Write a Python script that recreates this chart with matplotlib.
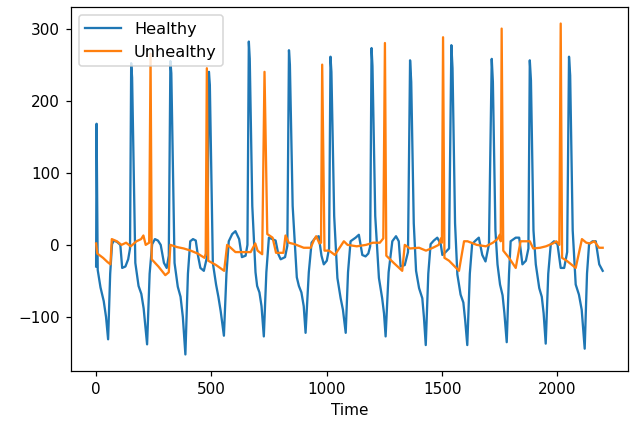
import matplotlib
matplotlib.use("Agg")
import matplotlib.pyplot as plt

# Healthy series: (time, value) vertices
healthy_t = [0, 2, 7, 19, 33, 43, 52, 61, 69, 77, 91, 105, 113, 127, 139, 147,
             152, 156, 170, 184, 196, 206, 221, 232, 243, 255, 268, 280, 294, 306, 315,
             322, 326, 340, 354, 366, 376, 387, 398, 408, 420, 432, 440, 452, 467, 482,
             489, 493, 506, 520, 530, 540, 554, 565, 575, 590, 604, 620, 632, 648, 656,
             662, 666, 677, 691, 698, 708, 717, 727, 738, 749, 764, 778, 790, 800, 819, 829,
             836, 840, 852, 870, 879, 890, 900, 908, 922, 934, 951, 965, 977, 987, 1000, 1010,
             1016, 1020, 1032, 1046, 1060, 1070, 1082, 1092, 1103, 1125, 1139, 1154, 1168, 1180, 1188,
             1194, 1198, 1210, 1226, 1240, 1248, 1255, 1268, 1284, 1300, 1312, 1320, 1338, 1352,
             1361, 1366, 1377, 1387, 1400, 1414, 1421, 1429, 1440, 1450, 1464, 1479, 1494, 1501, 1515, 1530,
             1540, 1545, 1556, 1566, 1580, 1592, 1600, 1609, 1620, 1630, 1645, 1659, 1674, 1688, 1703,
             1715, 1720, 1731, 1740, 1751, 1762, 1770, 1780, 1790, 1797, 1819, 1834, 1848, 1863, 1874,
             1880, 1885, 1896, 1906, 1921, 1932, 1940, 1949, 1960, 1971, 1985, 2000, 2014, 2029, 2042,
             2050, 2055, 2066, 2079, 2093, 2105, 2118, 2128, 2137, 2152, 2166, 2181, 2196]
healthy_v = [-30, 168, -35, -59, -78, -100, -131, -40, 1, 6, 4, 0, -32, -30, -20, -5,
             252, 232, -25, -57, -68, -88, -138, -40, 1, 8, 6, 0, -25, -32, -15,
             255, 238, -25, -58, -72, -100, -152, -40, 5, 8, 6, -12, -32, -36, -15,
             240, 222, -25, -55, -72, -92, -126, -40, 5, 15, 19, 8, -17, -15, 0,
             282, 258, 54, -38, -57, -66, -85, -127, -38, 10, 8, 6, -13, -20, -17, -1,
             270, 250, 54, -45, -57, -66, -85, -122, -38, 3, 10, 12, -15, -27, -22, -5,
             261, 240, 40, -46, -74, -90, -122, -38, 5, 10, 14, -14, -16, -12, -2,
             273, 248, 40, -46, -74, -95, -127, -38, 5, 12, 5, -30, -28, -10,
             256, 226, 30, -36, -60, -74, -100, -139, -40, 1, 6, 10, 1, -14, -10, -5,
             277, 245, 30, -41, -69, -80, -105, -139, -40, 1, 6, 10, -14, -23, 1,
             258, 226, 20, -27, -55, -70, -95, -135, -40, 5, 10, 10, -27, -22, -5,
             256, 228, 20, -27, -60, -72, -95, -137, -40, 1, 5, 1, -32, -32, -10,
             261, 235, 20, -55, -69, -90, -144, -40, 1, 5, 5, -27, -36]

# Unhealthy series: (time, value) vertices
unhealthy_t = [0, 5, 30, 50, 62, 68, 90, 110, 130, 150, 175, 195, 205, 215, 230,
               236, 241, 270, 300, 315, 322, 350, 380, 410, 440, 470, 475,
               480, 486, 520, 555, 568, 580, 604, 640, 670, 690, 700, 720,
               730, 742, 765, 780, 812, 821, 835, 860, 900, 930, 945, 954, 968, 975,
               980, 990, 1010, 1035, 1074, 1090, 1130, 1170, 1200, 1230, 1245,
               1252, 1258, 1290, 1327, 1338, 1360, 1400, 1430, 1460, 1485, 1495, 1499,
               1504, 1510, 1530, 1573, 1595, 1610, 1650, 1690, 1720, 1740, 1750, 1754,
               1758, 1765, 1790, 1819, 1840, 1860, 1880, 1895, 1925, 1950, 1980, 1995, 2008,
               2014, 2020, 2040, 2079, 2106, 2125, 2140, 2160, 2180, 2196]
unhealthy_v = [2, -12, -18, -24, -27, 8, 5, 0, 3, -2, 5, 8, 13, 0, 3,
               265, -20, -30, -42, -38, 0, -3, -5, -8, -12, -18, -12,
               245, -22, -28, -36, 0, -3, -10, -10, -10, 2, -8, -13,
               240, 15, 10, -11, -11, 13, 3, 1, -4, -4, 7, 12, 2, 3,
               250, -8, -8, -14, 5, 0, -2, 0, 3, 3, 9,
               280, -15, -25, -36, 0, -5, -4, -8, -4, 0, 9, 3,
               288, -18, -22, -36, 5, 5, 0, -2, 3, 8, 14, 5,
               300, -8, -18, -32, 5, 5, 5, -5, -4, -2, 2, 5, 0,
               307, -18, -22, -32, 8, 3, 2, 5, -4, -4]

fig = plt.figure(figsize=(632 / 110, 424 / 110), dpi=110)
ax = fig.add_axes([0.112, 0.125, 0.8817, 0.8585])
ax.plot(healthy_t, healthy_v, color="#1f77b4", label="Healthy")
ax.plot(unhealthy_t, unhealthy_v, color="#ff7f0e", label="Unhealthy")
ax.set_xlabel("Time")
ax.legend(loc="upper left", fontsize=10.6, handlelength=2.2)
fig.savefig("out.png", dpi=110)
